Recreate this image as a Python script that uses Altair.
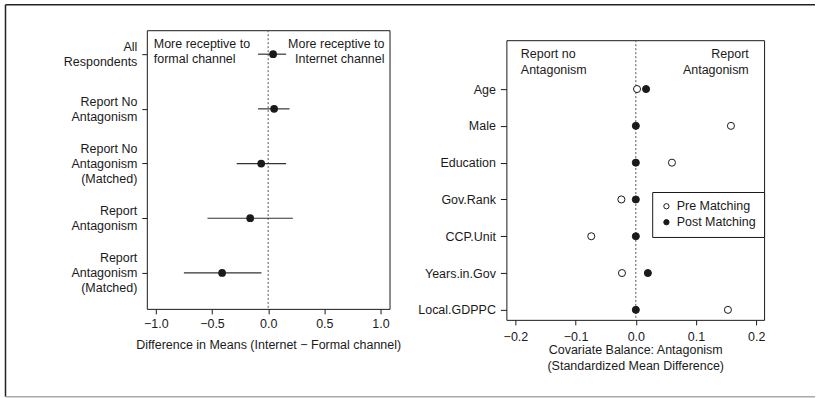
import altair as alt
import pandas as pd

# ---------------- data ----------------
groups = ["All\nRespondents", "Report No\nAntagonism", "Report No\nAntagonism\n(Matched)",
          "Report\nAntagonism", "Report\nAntagonism\n(Matched)"]
est = [0.044, 0.053, -0.062, -0.16, -0.41]
lo = [-0.09, -0.09, -0.28, -0.54, -0.75]
hi = [0.16, 0.19, 0.16, 0.22, -0.06]

covariates = ["Age", "Male", "Education", "Gov.Rank", "CCP.Unit", "Years.in.Gov", "Local.GDPPC"]
pre = [0.002, 0.158, 0.060, -0.024, -0.074, -0.023, 0.153]
post = [0.017, 0.0, 0.0, 0.0, 0.0, 0.020, 0.0]
series = ["Pre Matching", "Post Matching"]

left_ticks = [-1.0, -0.5, 0.0, 0.5, 1.0]
right_ticks = [-0.2, -0.1, 0.0, 0.1, 0.2]

left_notes = ["More receptive to\nformal channel", "More receptive to\nInternet channel"]
left_note_x = [-1.018, 1.035]
right_notes = ["Report no\nAntagonism", "Report\nAntagonism"]
right_note_x = [-0.191, 0.1876]

left_title = "Difference in Means (Internet \u2212 Formal channel)"
right_title = ["Covariate Balance: Antagonism", "(Standardized Mean Difference)"]

FONT = "Liberation Sans"
INK = "#1a1a1a"
LINE_H = 15

left_df = pd.DataFrame({"group": groups, "est": est, "lo": lo, "hi": hi})
right_df = pd.DataFrame({
    "cov": covariates * 2,
    "val": pre + post,
    "type": [series[0]] * len(pre) + [series[1]] * len(post),
})
one = pd.DataFrame({"k": [0]})


def note(xval, text, align, scale, y, lh):
    return alt.Chart(pd.DataFrame({"x": [xval], "t": [text]})).mark_text(
        lineBreak="\n", lineHeight=lh, fontSize=12.5, baseline="middle", align=align,
        color=INK, font=FONT).encode(
        x=alt.X("x:Q", scale=scale), y=alt.value(y), text="t:N")


# ---------------- left panel ----------------
LW, LH = 243, 279
lx_scale = alt.Scale(domain=[-1.08, 1.08], nice=False, zero=False)
# centre multi-line tick labels on their tick
label_shift = {"condition": [
    {"test": "length(split(datum.value, '\\n')) == 3", "value": -LINE_H},
    {"test": "length(split(datum.value, '\\n')) == 2", "value": -LINE_H / 2},
], "value": 0}
ly = alt.Y("group:N", sort=groups,
           scale=alt.Scale(type="point", padding=0.548, align=0.4),
           axis=alt.Axis(title=None, labelExpr="split(datum.label, '\\n')",
                         labelLineHeight=LINE_H, tickSize=5, labelPadding=5,
                         labelFontSize=12.5, labelAlign="right", labelOffset=label_shift))
lx_axis = alt.Axis(values=left_ticks, format=".1f", title=left_title,
                   tickSize=5, labelPadding=4, titlePadding=8)

zero_l = alt.Chart(one).mark_rule(color="#555", strokeDash=[2, 2], strokeWidth=1).encode(
    x=alt.datum(0, scale=lx_scale))
err_l = alt.Chart(left_df).mark_rule(color="#333", strokeWidth=1.2).encode(
    x=alt.X("lo:Q", scale=lx_scale, axis=lx_axis), x2="hi:Q", y=ly)
pts_l = alt.Chart(left_df).mark_point(filled=True, size=60, color=INK, opacity=1).encode(
    x=alt.X("est:Q", scale=lx_scale, axis=lx_axis), y=ly)
notes_l = [note(left_note_x[0], left_notes[0], "left", lx_scale, 14, 15),
           note(left_note_x[1], left_notes[1], "right", lx_scale, 14, 15)]

# outer figure frame (decoration; ignored by the flush layout)
fr_left = alt.Chart(one).mark_rule(color="#222", strokeWidth=1.5).encode(
    x=alt.value(-141.5), y=alt.value(-25.5), y2=alt.value(367))
fr_top = alt.Chart(one).mark_rule(color="#222", strokeWidth=1.5).encode(
    x=alt.value(-141.5), x2=alt.value(669), y=alt.value(-25.5))
fr_bot = alt.Chart(one).mark_rule(color="#aaa", strokeWidth=1.5).encode(
    x=alt.value(-141.5), x2=alt.value(669), y=alt.value(367))

left = alt.layer(fr_left, fr_top, fr_bot, zero_l, err_l, pts_l, *notes_l).properties(
    width=LW, height=LH)

# ---------------- right panel ----------------
RW, RH = 258, 280
rx_scale = alt.Scale(domain=[-0.215, 0.213], nice=False, zero=False)
ry = alt.Y("cov:N", sort=covariates,
           scale=alt.Scale(type="point", padding=0.80, align=0.83),
           axis=alt.Axis(title=None, tickSize=6, labelPadding=5, labelFontSize=12.5))
rx_axis = alt.Axis(values=right_ticks, format=".1f", title=right_title,
                   tickSize=5, labelPadding=6, titlePadding=0, titleLineHeight=16)

zero_r = alt.Chart(one).mark_rule(color="#555", strokeDash=[2, 2], strokeWidth=1).encode(
    x=alt.datum(0, scale=rx_scale))
pts_r = alt.Chart(right_df).mark_point(filled=True, size=50, stroke=INK, strokeWidth=1,
                                       opacity=1).encode(
    x=alt.X("val:Q", scale=rx_scale, axis=rx_axis), y=ry,
    fill=alt.Fill("type:N", scale=alt.Scale(domain=series, range=["white", INK]),
                  legend=alt.Legend(title=None, orient="none", legendX=506, legendY=162,
                                    strokeColor=INK, fillColor="white", padding=8,
                                    cornerRadius=0, symbolType="circle", symbolSize=28,
                                    symbolStrokeColor=INK, symbolStrokeWidth=1,
                                    labelFontSize=12.5, labelOffset=4, rowPadding=3,
                                    labelFont=FONT, labelColor=INK)))
notes_r = [note(right_note_x[0], right_notes[0], "left", rx_scale, 14, 16),
           note(right_note_x[1], right_notes[1], "right", rx_scale, 14, 16)]

right = alt.layer(zero_r, pts_r, *notes_r).properties(width=RW, height=RH)

spacer = alt.Chart(one).mark_point(opacity=0).encode(
    x=alt.value(0), y=alt.value(0)).properties(
    width=RW, height=1, view=alt.ViewBackground(stroke=None))

right_col = alt.vconcat(spacer, right, spacing=9, bounds="flush")

chart = alt.hconcat(left, right_col, spacing=117, bounds="flush").properties(
    padding={"left": 4, "top": 3, "right": 0, "bottom": 1},
    background="white",
).configure_view(stroke=INK, strokeWidth=1).configure_axis(
    grid=False, domain=False, labelFont=FONT, titleFont=FONT, labelColor=INK, titleColor=INK,
    tickColor=INK, labelFontSize=12.5, titleFontSize=12.5, titleFontWeight="normal",
).configure_legend(labelFont=FONT)

chart.save("out.html", embed_options={"renderer": "svg", "actions": False})
